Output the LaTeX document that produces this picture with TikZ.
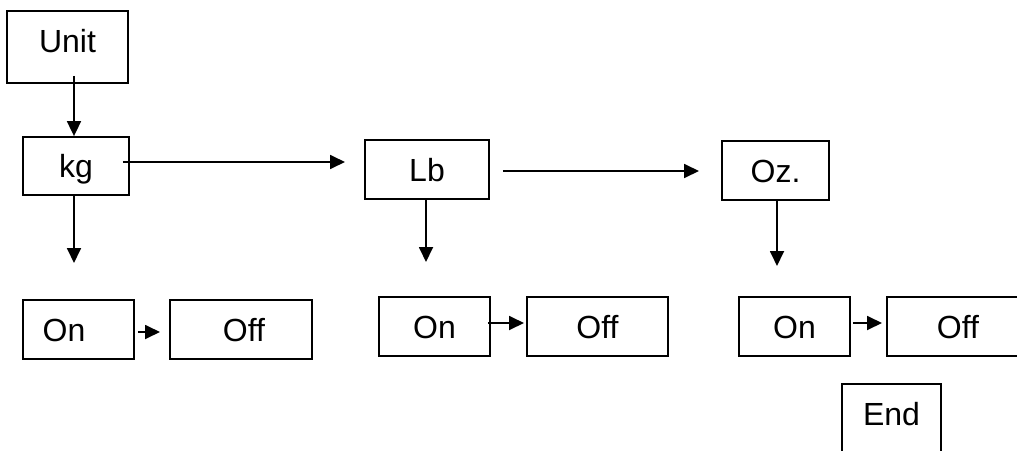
\documentclass[tikz,border=0pt]{standalone}
\usepackage{fontspec}
\setmainfont{Liberation Sans}
\usepackage{tikz}
\usetikzlibrary{arrows.meta,
    positioning}

\begin{document}
\begin{tikzpicture}[x=1pt,y=-1pt,
    unitbox/.style={draw,line width=1.8pt,inner sep=0pt,
        minimum height=59pt,text height=23pt,text depth=0pt,
        font=\fontsize{32}{38}\selectfont},
    tallbox/.style={unitbox,minimum height=72pt,text depth=12pt},
    flowarr/.style={line width=1.8pt,-{Triangle[length=15pt,width=14pt]}}]
                  \clip (0,0) rectangle (1017,450);
                  \fill[white] (0,0) rectangle (1017,450);
                  % top
                  \node[tallbox,minimum width=121pt] (unit) at (67.5,47) {Unit};
                  \node[unitbox,minimum width=106pt,minimum height=58pt] (kg) at (76,166) {kg};
                  \node[unitbox,minimum width=124pt] (lb) at (427,169.5) {Lb};
                  \node[unitbox,minimum width=107pt] (oz) at (775.5,170.5) {Oz.};
                  % on / off
                  \node[unitbox,minimum width=111pt] (onA) at (78.5,329.5) {\hspace*{-29pt}On};
                  \node[unitbox,minimum width=142pt] (offA) at (241,329.5) {\hspace*{6pt}Off};
                  \node[unitbox,minimum width=111pt] (onB) at (434.5,326.5) {On};
                  \node[unitbox,minimum width=141pt] (offB) at (597.5,326.5) {Off};
                  \node[unitbox,minimum width=111pt] (onC) at (794.5,326.5) {On};
                  \node[unitbox,minimum width=142pt] (offC) at (958,326.5) {Off};
                  \node[tallbox,minimum width=99pt] (end) at (891.5,420) {End};
                  % free arrow ends
                  \coordinate (lbin) at (345,162);
                  \coordinate (ozin) at (699,171);
                  \coordinate (kgtip) at (74,263);
                  \coordinate (lbtip) at (426,262);
                  \coordinate (oztip) at (777,266);
                  \coordinate (offAin) at (160,332);
                  \coordinate (offBin) at (524,323);
                  \coordinate (offCin) at (882,323);
                  \draw[flowarr] ([xshift=6.5pt,yshift=8pt]unit.south) -- ([xshift=-2pt]kg.north);
                  \draw[flowarr] ([xshift=-7pt,yshift=4pt]kg.east) -- (lbin);
                  \draw[flowarr] ([xshift=13pt,yshift=-1.5pt]lb.east) -- (ozin);
                  \draw[flowarr] (kg.south -| kgtip) -- (kgtip);
                  \draw[flowarr] (lb.south -| lbtip) -- (lbtip);
                  \draw[flowarr] (oz.south -| oztip) -- (oztip);
                  \draw[flowarr] ([xshift=3pt,yshift=-2.5pt]onA.east) -- (offAin);
                  \draw[flowarr] ([xshift=-3pt,yshift=3.5pt]onB.east) -- (offBin);
                  \draw[flowarr] ([xshift=2pt,yshift=3.5pt]onC.east) -- (offCin);
              \end{tikzpicture}
\end{document}
